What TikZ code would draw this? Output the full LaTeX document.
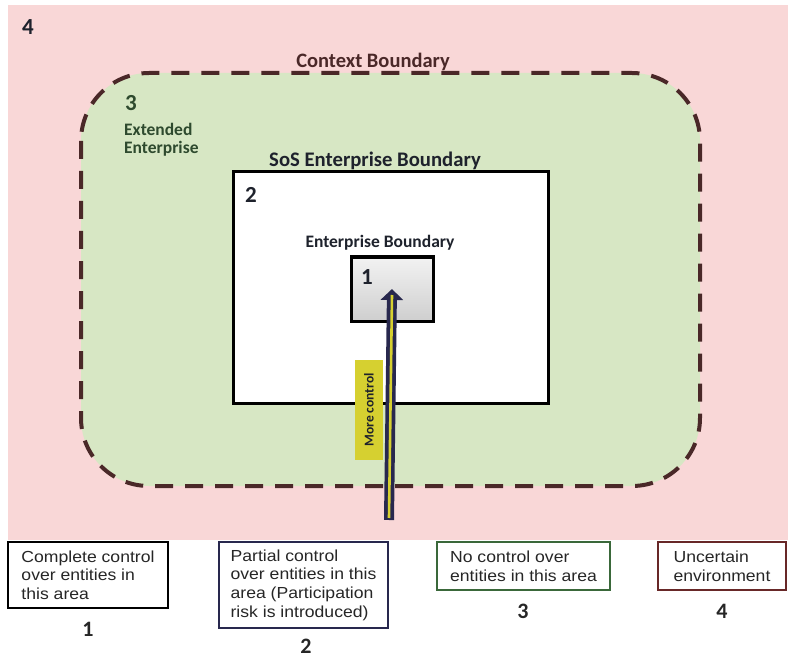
\documentclass[tikz,border=0pt]{standalone}
\usepackage{fontspec}
\setmainfont{Carlito}
\newfontfamily\legendfont[FakeStretch=1.1]{Liberation Sans}
\usetikzlibrary{arrows.meta,calc}

\definecolor{pinkbg}{RGB}{249,215,215}
\definecolor{greenbg}{RGB}{215,231,196}
\definecolor{ctxbrown}{RGB}{74,40,40}
\definecolor{darkgreen}{RGB}{46,74,46}
\definecolor{inkdark}{RGB}{30,34,44}
\definecolor{navy}{RGB}{40,40,78}
\definecolor{ctrlyellow}{RGB}{214,208,48}
\definecolor{legendgreen}{RGB}{58,104,58}
\definecolor{legendred}{RGB}{104,40,40}

\tikzset{
  areabox/.style={draw=black, line width=3pt, inner sep=0pt},
  arealabel/.style={font=\bfseries\fontsize{17.5}{19}\selectfont, text=inkdark, inner sep=0pt},
  areanum/.style={font=\bfseries\fontsize{23}{24}\selectfont, text=inkdark, inner sep=0pt},
  legendbox/.style={draw, line width=2pt, inner sep=0pt, align=left,
    font=\legendfont\fontsize{16}{18.7}\selectfont, text=black!85},
  legendnum/.style={font=\bfseries\fontsize{22}{23}\selectfont, text=black!85, inner sep=0pt},
}

\begin{document}
\begin{tikzpicture}[x=1pt,y=-1pt]
\useasboundingbox (0,0) rectangle (788,658);

% area 4: uncertain environment
\fill[pinkbg] (8,5) rectangle (788,540);
\node[areanum] (n4) at (28,27) {4};

% area 3: context boundary with the extended enterprise
\draw[fill=greenbg, draw=ctxbrown, line width=4pt, dash pattern=on 18pt off 12pt,
      rounded corners=68pt] (81,73) rectangle (700,486);
\node[font=\bfseries\fontsize{20.5}{22}\selectfont, text=ctxbrown, inner sep=0pt]
  (ctxlabel) at (373,62) {Context Boundary};
\node[font=\bfseries\fontsize{23}{24}\selectfont, text=darkgreen, inner sep=0pt]
  (n3) at (131,103) {3};
\node[font=\bfseries\fontsize{17.5}{18}\selectfont, text=darkgreen, align=left,
      anchor=north west, inner sep=0pt] (extlabel) at (124,123) {Extended\\Enterprise};

% area 2: SoS enterprise
\node[areabox, fill=white, minimum width=315pt, minimum height=231pt]
  (sos) at (390.5,287.5) {};
\node[arealabel, font=\bfseries\fontsize{20.7}{22}\selectfont] (soslabel) at (375,161)
  {SoS Enterprise Boundary};
\node[areanum] (n2) at (251,195) {2};

% area 1: enterprise
\node[arealabel] (entlabel) at (380,243) {Enterprise Boundary};
\node[areabox, top color=gray!10, bottom color=gray!38, minimum width=82pt,
      minimum height=64pt] (ent) at (392,289) {};
\node[areanum] (n1) at (367,277) {1};

% "more control" arrow
\coordinate (arrowfoot) at (389,520);
\draw[navy, line width=10pt, -{Triangle[width=22pt,length=11pt]}]
  (arrowfoot) -- (ent.center);
\draw[ctrlyellow, line width=2.6pt] ($(arrowfoot)+(0,-2)$) -- ($(ent.center)+(0,6)$);
\node[rotate=90, fill=ctrlyellow, minimum width=100pt, minimum height=28pt, inner sep=0pt,
      font=\bfseries\fontsize{13.5}{14}\selectfont, text=inkdark] (ctrl) at (369,410)
  {More control};

% legend
\node[legendbox, draw=black, minimum width=160pt, minimum height=66pt]
  (leg1) at (88,575) {Complete control\\over entities in\\this area};
\node[legendnum] (lnum1) at (88,629) {1};
\node[legendbox, draw=navy, minimum width=169pt, minimum height=86pt]
  (leg2) at (303.5,585) {Partial control\\over entities in this\\area (Participation\\risk is introduced)};
\node[legendnum] (lnum2) at (306,646) {2};
\node[legendbox, draw=legendgreen, minimum width=173pt, minimum height=48pt]
  (leg3) at (523.5,566) {No control over\\entities in this area};
\node[legendnum] (lnum3) at (523,611) {3};
\node[legendbox, draw=legendred, minimum width=128pt, minimum height=48pt]
  (leg4) at (722,566) {Uncertain\\environment};
\node[legendnum] (lnum4) at (722,611) {4};
\end{tikzpicture}
\end{document}
